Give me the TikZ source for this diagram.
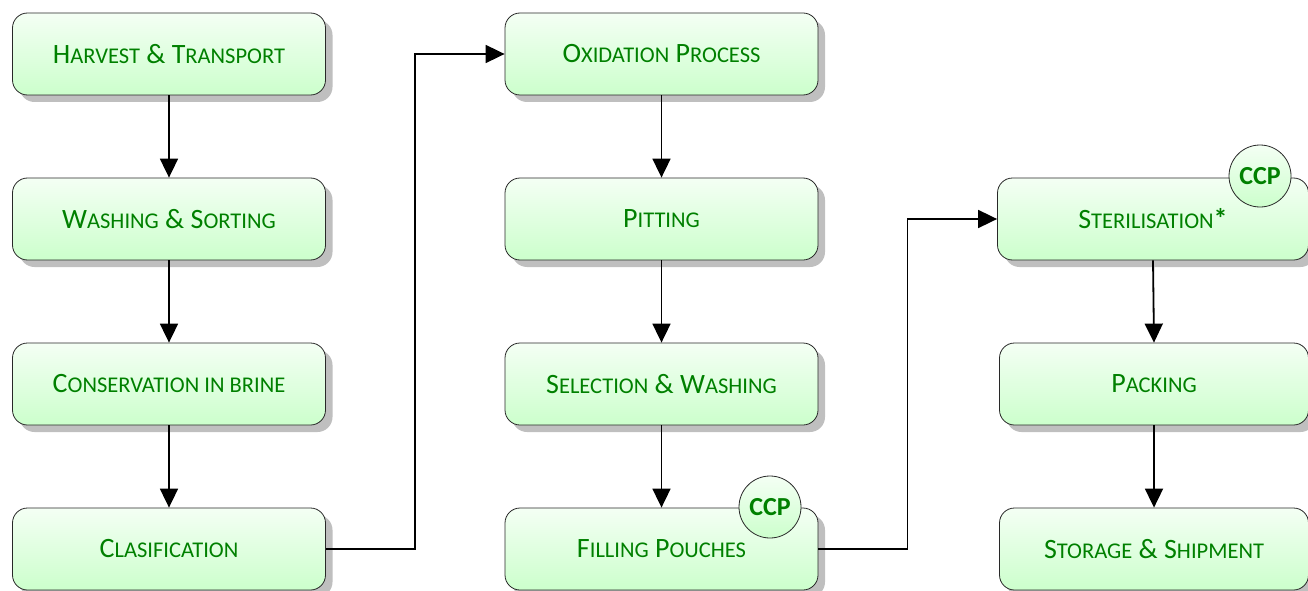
\documentclass[tikz,border=0pt]{standalone}
\usepackage{fontspec}
\setmainfont{Carlito}
\usetikzlibrary{arrows.meta,shadows}

\definecolor{boxtop}{RGB}{244,255,244}
\definecolor{boxbottom}{RGB}{204,255,204}
\definecolor{steptext}{RGB}{0,128,0}
\definecolor{boxline}{RGB}{40,40,40}

% small capitals by hand
\newcommand\smc[1]{{\fontsize{22.5}{26}\selectfont #1}}

\tikzset{
	stepbox/.style={draw=boxline, line width=0.8pt, rounded corners=15pt,
		top color=boxtop, bottom color=boxbottom,
		minimum width=313pt, minimum height=82pt,
		drop shadow={shadow xshift=7pt, shadow yshift=-7pt, fill=black!25, opacity=1},
		text=steptext, font=\fontsize{28}{32}\selectfont},
	ccp/.style={circle, draw=boxline, line width=0.8pt,
		top color=boxtop, bottom color=boxbottom,
		minimum size=62pt, inner sep=0pt,
		text=steptext, font=\fontsize{26}{30}\selectfont\bfseries},
	flow/.style={line width=1.8pt, -{Triangle[width=18pt,length=19pt]}}
}

\begin{document}
\begin{tikzpicture}[x=1pt, y=-1pt]
	\useasboundingbox (0,0) rectangle (1308,591);

	% first column
	\node[stepbox] (harvest) at (169,54) {H\smc{ARVEST} \& T\smc{RANSPORT}};
	\node[stepbox] (washing) at (169,219) {W\smc{ASHING} \& S\smc{ORTING}};
	\node[stepbox] (brine) at (169,384) {C\smc{ONSERVATION IN BRINE}};
	\node[stepbox] (clasif) at (169,549) {C\smc{LASIFICATION}};

	% second column
	\node[stepbox] (oxid) at (661.5,54) {O\smc{XIDATION} P\smc{ROCESS}};
	\node[stepbox] (pitting) at (661.5,219) {P\smc{ITTING}};
	\node[stepbox] (select) at (661.5,384) {S\smc{ELECTION} \& W\smc{ASHING}};
	\node[stepbox] (filling) at (661.5,549) {F\smc{ILLING} P\smc{OUCHES}};
	\node[ccp] (ccpa) at (770,507) {CCP};

	% third column
	\node[stepbox, minimum width=311pt] (steril) at (1153,219) {S\smc{TERILISATION}{\bfseries*}};
	\node[ccp] (ccpb) at (1260,176) {CCP};
	\node[stepbox, minimum width=309pt] (packing) at (1154,384) {P\smc{ACKING}};
	\node[stepbox, minimum width=309pt] (storage) at (1154,549) {S\smc{TORAGE} \& S\smc{HIPMENT}};

	\draw[flow] (harvest) -- (washing);
	\draw[flow] (washing) -- (brine);
	\draw[flow] (brine) -- (clasif);
	\draw[flow] (clasif.east) -- ++(89,0) |- (oxid.west);

	\draw[flow] (oxid) -- (pitting);
	\draw[flow] (pitting) -- (select);
	\draw[flow] (select) -- (filling);
	\draw[flow] (filling.east) -- ++(89,0) |- (steril.west);

	\draw[flow] (steril.south) -- (packing.north);
	\draw[flow] (packing) -- (storage);
\end{tikzpicture}
\end{document}
